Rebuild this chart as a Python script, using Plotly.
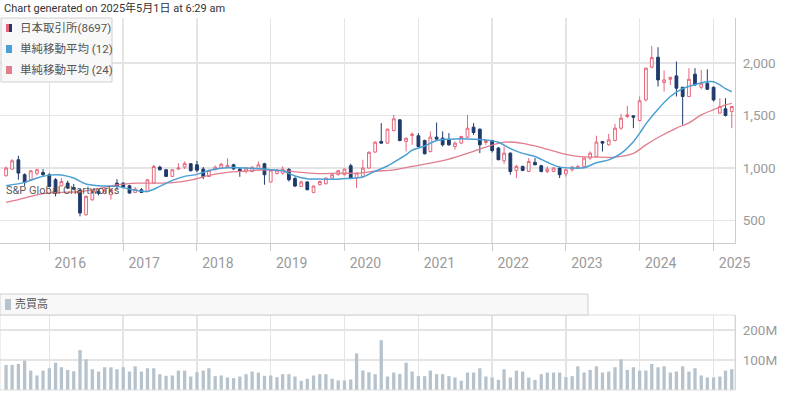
import plotly.graph_objects as go
import pandas as pd

# ---------------- data ----------------
months = pd.date_range("2015-06-01", periods=119, freq="MS")

open_ = [927, 990, 1079, 937, 889, 950, 958, 936, 889, 832, 857, 815, 790, 557, 699, 778, 760, 747, 857, 857,
         832, 769, 794, 778, 857, 1009, 984, 921, 990, 1010, 1041, 1031, 990, 920, 984, 1000, 1005, 1031, 990, 970,
         968, 995, 1041, 868, 948, 952, 987, 900, 826, 868, 769, 842, 851, 905, 937, 937, 1022, 905, 921, 1000,
         1152, 1253, 1237, 1357, 1458, 1253, 1310, 1307, 1262, 1158, 1294, 1284, 1269, 1205, 1237, 1294, 1389, 1370, 1243, 1262,
         1190, 1069, 1142, 978, 1016, 968, 1054, 1022, 968, 968, 1000, 946, 984, 1003, 1016, 1095, 1110, 1253, 1221, 1262,
         1379, 1490, 1496, 1452, 1648, 1958, 2053, 1813, 1844, 1876, 1768, 1680, 1892, 1768, 1806, 1768, 1522, 1563, 1537]
high = [1015, 1085, 1117, 950, 980, 995, 990, 952, 905, 905, 880, 850, 800, 740, 795, 800, 810, 810, 895, 865,
        840, 820, 810, 895, 1031, 1022, 990, 990, 1047, 1063, 1047, 1068, 1010, 984, 1025, 1050, 1092, 1041, 1005, 1000,
        1015, 1063, 1050, 988, 990, 1016, 1000, 915, 880, 875, 835, 880, 910, 945, 980, 995, 1041, 958, 1079, 1160,
        1255, 1427, 1375, 1506, 1465, 1290, 1338, 1332, 1270, 1348, 1433, 1348, 1332, 1253, 1307, 1506, 1427, 1375, 1269, 1269,
        1200, 1205, 1148, 1031, 1022, 1095, 1095, 1031, 1016, 1010, 1016, 1000, 1022, 1031, 1100, 1158, 1307, 1253, 1325, 1420,
        1515, 1591, 1500, 1680, 1955, 2160, 2148, 1927, 1863, 2012, 1768, 1949, 1949, 1933, 1939, 1775, 1664, 1664, 1585]
low = [920, 984, 889, 830, 880, 930, 927, 816, 731, 826, 800, 790, 541, 547, 690, 740, 750, 700, 794, 810,
       760, 762, 762, 770, 850, 978, 915, 915, 984, 990, 968, 960, 895, 915, 978, 990, 1000, 984, 917, 950,
       960, 990, 842, 864, 940, 937, 873, 820, 820, 790, 760, 835, 845, 900, 930, 930, 895, 810, 914, 995,
       1145, 1231, 1230, 1348, 1253, 1158, 1221, 1199, 1130, 1148, 1270, 1205, 1212, 1174, 1231, 1284, 1316, 1142, 1221, 1148,
       1075, 1041, 937, 905, 970, 962, 1028, 959, 952, 960, 905, 920, 968, 990, 1010, 1079, 1104, 1158, 1212, 1253,
       1363, 1474, 1379, 1443, 1632, 1949, 1775, 1727, 1790, 1680, 1411, 1674, 1781, 1749, 1743, 1632, 1515, 1490, 1379]
close = [1000, 1069, 952, 864, 974, 984, 936, 826, 762, 873, 810, 800, 573, 731, 778, 760, 790, 794, 826, 819,
         762, 800, 769, 889, 1015, 984, 921, 984, 1000, 1045, 975, 980, 918, 978, 1008, 1036, 1026, 992, 970, 1000,
         1009, 1031, 937, 980, 980, 990, 889, 829, 868, 794, 829, 873, 905, 937, 975, 990, 905, 952, 1000, 1150,
         1246, 1237, 1370, 1468, 1262, 1284, 1322, 1205, 1136, 1294, 1275, 1221, 1221, 1237, 1300, 1379, 1338, 1221, 1262, 1167,
         1079, 1142, 968, 1016, 978, 1063, 1031, 968, 990, 1000, 937, 984, 1009, 1013, 1095, 1142, 1247, 1237, 1268, 1379,
         1474, 1506, 1484, 1639, 1949, 2050, 1838, 1838, 1863, 1759, 1680, 1844, 1790, 1806, 1749, 1648, 1585, 1500, 1585]

volume_m = [83.5, 83.5, 86.8, 97.8, 64.8, 48.4, 64.8, 72.5, 91.2, 75.8,
            67, 62.6, 133, 102, 69.2, 61.5, 75.8, 75.8, 69.2, 75.8,
            61.5, 79, 61.5, 72.5, 72.5, 52.7, 47.3, 48.4, 64.8, 64.8,
            45, 59.3, 64.8, 72.5, 46.2, 48.4, 41.8, 39.6, 45, 52.7,
            61.5, 58.2, 47.3, 48.4, 42.9, 52.7, 52.7, 45, 30.8, 37.4,
            48.4, 52.7, 52.7, 37.4, 31.9, 31.9, 35.2, 122, 64.8, 59.3,
            52.7, 166, 45, 58.2, 53.8, 91.2, 61.5, 46.2, 46.2, 64.8,
            52.7, 52.7, 46.2, 41.8, 30.8, 58.2, 58.2, 72.5, 45, 41.8,
            34, 69.2, 41.8, 64.8, 61.5, 41.8, 34, 52.7, 58.2, 58.2,
            58.2, 42.9, 46.2, 79, 58.2, 67, 79, 58.2, 61.5, 75.8,
            102, 67, 75.8, 64.8, 64.8, 86.8, 75.8, 79, 58.2, 61.5,
            79, 61.5, 72.5, 48.4, 41.8, 41.8, 45, 64.8, 69.2]

ma12_dates = ["2015-06-01", "2015-09-01", "2015-11-01", "2016-01-01", "2016-03-01", "2016-05-01", "2016-07-01",
              "2016-09-01", "2016-12-01", "2017-02-01", "2017-05-01", "2017-07-01", "2017-09-01", "2017-11-01",
              "2018-01-01", "2018-03-01", "2018-05-01", "2018-07-01", "2018-09-01", "2018-11-01", "2019-01-01",
              "2019-03-01", "2019-05-01", "2019-07-01", "2019-09-01", "2019-11-01", "2020-01-01", "2020-03-01",
              "2020-04-01", "2020-06-01", "2020-08-01", "2020-10-01", "2020-11-01", "2020-12-01", "2021-02-01",
              "2021-04-01", "2021-06-01", "2021-08-01", "2021-10-01", "2021-12-01", "2022-02-01", "2022-04-01",
              "2022-06-01", "2022-08-01", "2022-10-01", "2022-12-01", "2023-02-01", "2023-04-01", "2023-06-01",
              "2023-08-01", "2023-10-01", "2023-12-01", "2024-01-01", "2024-02-01", "2024-04-01", "2024-06-01",
              "2024-08-01", "2024-10-01", "2024-12-01", "2025-01-01", "2025-02-01", "2025-03-01", "2025-04-01"]
ma12_values = [832, 864, 905, 933, 935, 905, 848,
               832, 826, 800, 778, 826, 883, 921,
               940, 977, 998, 1005, 1000, 995, 984,
               975, 925, 898, 895, 893, 900, 905,
               915, 970, 1020, 1090, 1126, 1170, 1210,
               1262, 1275, 1278, 1275, 1268, 1245, 1185,
               1140, 1110, 1055, 1009, 1000, 1003, 1050,
               1078, 1140, 1250, 1330, 1420, 1560, 1680,
               1755, 1795, 1820, 1820, 1790, 1755, 1725]

ma24_dates = ["2015-06-01", "2015-08-01", "2015-10-01", "2015-12-01", "2016-03-01", "2016-06-01", "2016-09-01",
              "2016-12-01", "2017-03-01", "2017-06-01", "2017-09-01", "2017-12-01", "2018-03-01", "2018-06-01",
              "2018-09-01", "2018-12-01", "2019-03-01", "2019-06-01", "2019-09-01", "2019-12-01", "2020-03-01",
              "2020-06-01", "2020-09-01", "2020-12-01", "2021-03-01", "2021-06-01", "2021-09-01", "2021-12-01",
              "2022-03-01", "2022-06-01", "2022-09-01", "2022-12-01", "2023-03-01", "2023-06-01", "2023-09-01",
              "2023-12-01", "2024-02-01", "2024-04-01", "2024-07-01", "2024-09-01", "2024-11-01", "2025-01-01",
              "2025-03-01", "2025-04-01"]
ma24_values = [674, 700, 730, 758, 769, 775, 805,
               840, 857, 857, 862, 885, 930, 960,
               972, 984, 975, 960, 948, 952, 950,
               970, 982, 1016, 1047, 1085, 1140, 1200,
               1246, 1235, 1195, 1145, 1112, 1104, 1104,
               1140, 1220, 1290, 1380, 1430, 1505, 1555,
               1600, 1615]

year_ticks = ["2016-01-01", "2017-01-01", "2018-01-01", "2019-01-01", "2020-01-01",
              "2021-01-01", "2022-01-01", "2023-01-01", "2024-01-01", "2025-01-01"]
year_labels = ["2016", "2017", "2018", "2019", "2020", "2021", "2022", "2023", "2024", "2025"]
price_ticks = [500, 1000, 1500, 2000]
vol_ticks = [100, 200]
vol_labels = ["100M", "200M"]

legend_names = ["日本取引所(8697)", "単純移動平均 (12)", "単純移動平均 (24)"]
volume_name = "売買高"
title_text = "Chart generated on 2025年5月1日 at 6:29 am"
watermark = "S&P Global Chartworks"

# ---------------- styling ----------------
W, H = 800, 396
RED = "#e5667c"
NAVY = "#1f3a6b"
BLUE = "#4a9fd4"
PINK = "#e27d8d"
VOLC = "#b6c3cc"
GRID = "#e4e4e4"
AXIS = "#cccccc"
TICKC = "#9a9a9a"
FONT = "Roboto, 'Noto Sans CJK JP', sans-serif"


def px(x):
    return x / W


def py(y):
    return 1 - y / H


x_right = 735
fig = go.Figure()

fig.add_trace(go.Candlestick(
    x=months, open=open_, high=high, low=low, close=close,
    increasing=dict(line=dict(color=RED, width=1), fillcolor="white"),
    decreasing=dict(line=dict(color=NAVY, width=1), fillcolor=NAVY),
    whiskerwidth=0, xaxis="x", yaxis="y", name=legend_names[0], showlegend=False))

fig.add_trace(go.Scatter(x=ma24_dates, y=ma24_values, mode="lines",
                         line=dict(color=PINK, width=1.3, shape="spline", smoothing=0.8),
                         xaxis="x", yaxis="y", showlegend=False))
fig.add_trace(go.Scatter(x=ma12_dates, y=ma12_values, mode="lines",
                         line=dict(color=BLUE, width=1.5, shape="spline", smoothing=0.8),
                         xaxis="x", yaxis="y", showlegend=False))

fig.add_trace(go.Bar(x=months, y=volume_m, marker=dict(color=VOLC, line=dict(width=0)),
                     xaxis="x2", yaxis="y2", showlegend=False))

xr = ["2015-05-02", "2025-04-17"]
fig.update_layout(
    width=W, height=H, autosize=False, margin=dict(l=0, r=0, t=0, b=0, pad=0),
    paper_bgcolor="white", plot_bgcolor="white",
    font=dict(family=FONT, size=12, color="#555"),
    showlegend=False, bargap=0.42,
    xaxis=dict(domain=[0, px(x_right)], range=xr, type="date", anchor="y", automargin=False,
               tickvals=year_ticks, ticktext=year_labels, ticks="outside", ticklen=7,
               tickcolor=AXIS, showgrid=True, gridcolor=GRID, gridwidth=1.5,
               showline=True, linecolor=AXIS, linewidth=1, zeroline=False,
               tickfont=dict(size=14, color=TICKC), ticklabelshift=21,
               rangeslider=dict(visible=False)),
    yaxis=dict(domain=[py(243), py(18)], range=[288, 2426], side="right", anchor="x", automargin=False,
               tickvals=price_ticks, tickformat=",", ticks="", showgrid=True,
               gridcolor=GRID, gridwidth=1.5, showline=True, linecolor=AXIS,
               zeroline=False, tickfont=dict(size=13.5, color=TICKC), ticklabelstandoff=4),
    xaxis2=dict(domain=[0, px(x_right)], range=xr, type="date", anchor="y2", matches="x", automargin=False,
                tickvals=year_ticks, showticklabels=False, ticks="", showgrid=True,
                gridcolor=GRID, gridwidth=1.5, showline=False, zeroline=False),
    yaxis2=dict(domain=[py(390), py(315)], range=[0, 250], side="right", anchor="x2", automargin=False,
                tickvals=vol_ticks, ticktext=vol_labels, ticks="", showgrid=True,
                gridcolor=GRID, gridwidth=1.5, showline=True, linecolor=AXIS,
                zeroline=False, tickfont=dict(size=13.5, color=TICKC), ticklabelstandoff=4),
)

shapes = []
annotations = []


def rect(x0, y0, x1, y1, fill, line=None, lw=1):
    shapes.append(dict(type="rect", xref="paper", yref="paper",
                       x0=px(x0), x1=px(x1), y0=py(y1), y1=py(y0),
                       fillcolor=fill, line=dict(color=line or "rgba(0,0,0,0)", width=lw if line else 0),
                       layer="above"))


def text(x, y, s, size=12, color="#555"):
    annotations.append(dict(xref="paper", yref="paper", x=px(x), y=py(y), text=s,
                            showarrow=False, xanchor="left", yanchor="middle",
                            font=dict(size=size, color=color, family=FONT)))


# volume panel frame
rect(0, 315, x_right, 390, "rgba(0,0,0,0)", line="#dddddd")

# main legend
rect(1, 18, 112, 82, "rgba(248,248,248,1)", line="#d0d0d0")
rows = [28, 49, 70]
rect(6, rows[0] - 4, 9, rows[0] + 4, RED)
rect(9, rows[0] - 4, 12, rows[0] + 4, NAVY)
rect(6, rows[1] - 4, 12, rows[1] + 4, BLUE)
rect(6, rows[2] - 4, 12, rows[2] + 4, PINK)
for r, name in zip(rows, legend_names):
    text(18, r, name, 11.5, "#555")

# volume legend
rect(0, 294, 588, 315, "rgba(248,248,248,1)", line="#d0d0d0")
rect(5, 299, 11, 310, VOLC)
text(13, 304, volume_name, 11, "#555")

# title and watermark
text(2, 8, title_text, 11, "#333")
text(4, 190, watermark, 11, "rgba(70,70,70,0.9)")

fig.update_layout(shapes=shapes, annotations=annotations)

post = ("document.documentElement.style.margin='0';"
        "document.body.style.margin='0';document.body.style.padding='0';"
        "document.body.style.overflow='hidden';"
        "document.documentElement.style.overflow='hidden';")
fig.write_html("out.html",
               config={"responsive": False, "displayModeBar": False, "staticPlot": True},
               post_script=post)
